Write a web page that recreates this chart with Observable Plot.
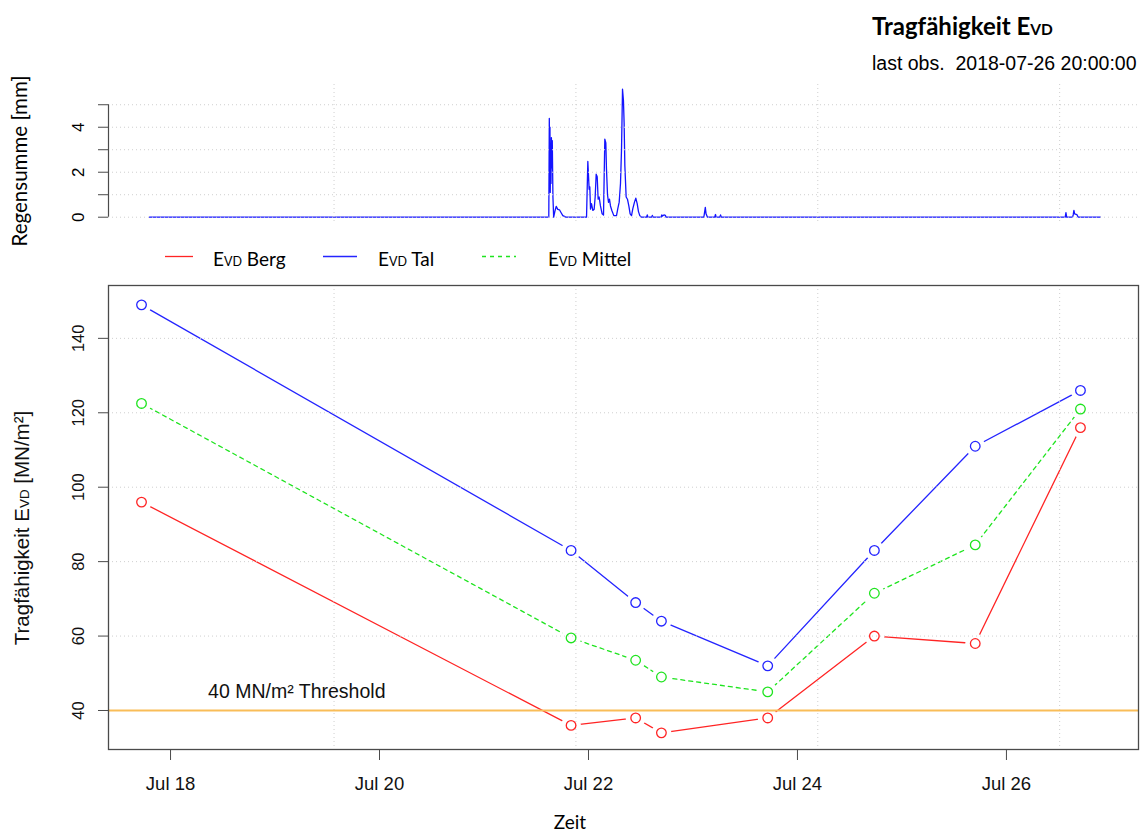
<!DOCTYPE html>
<html>
<head>
<meta charset="utf-8">
<script src="https://cdn.jsdelivr.net/npm/d3@7"></script>
<script src="https://cdn.jsdelivr.net/npm/@observablehq/plot@0.6"></script>
<style>
  body { margin: 0; background: #fff; }
  #chart { position: relative; width: 1141px; height: 834px; overflow: hidden; background: #fff; }
  #chart > svg { position: absolute; left: 0; }
  #overlay { top: 0; pointer-events: none; }
</style>
</head>
<body>
<div id="chart"></div>
<script>
// ---- E_VD measurements (local time) ----
const evdTimes   = ["2018-07-17T17:20", "2018-07-21T20:00", "2018-07-22T10:50", "2018-07-22T16:45",
                    "2018-07-23T17:10", "2018-07-24T17:40", "2018-07-25T16:50", "2018-07-26T17:00"];
const evdBerg    = [96, 36, 38, 34, 38, 60, 58, 116];
const evdTal     = [149, 83, 69, 64, 52, 83, 111, 126];
const evdMittel  = [122.5, 59.5, 53.5, 49, 45, 71.5, 84.5, 121];
const threshold  = 40;

// ---- rain sums [mm] ----
const rainTimes = [
  "2018-07-17T19:10", "2018-07-21T14:53", "2018-07-21T15:00", "2018-07-21T15:05", "2018-07-21T15:09",
  "2018-07-21T15:13", "2018-07-21T15:18", "2018-07-21T15:23", "2018-07-21T15:29", "2018-07-21T15:35",
  "2018-07-21T15:41", "2018-07-21T15:50", "2018-07-21T16:00", "2018-07-21T16:20", "2018-07-21T16:35",
  "2018-07-21T16:57", "2018-07-21T17:20", "2018-07-21T17:43", "2018-07-21T18:06", "2018-07-21T18:29",
  "2018-07-21T18:48", "2018-07-21T23:33", "2018-07-21T23:51", "2018-07-22T00:09", "2018-07-22T00:18",
  "2018-07-22T00:28", "2018-07-22T00:41", "2018-07-22T01:00", "2018-07-22T01:18", "2018-07-22T01:32",
  "2018-07-22T01:46", "2018-07-22T02:00", "2018-07-22T02:13", "2018-07-22T02:27", "2018-07-22T02:45",
  "2018-07-22T03:08", "2018-07-22T03:27", "2018-07-22T03:45", "2018-07-22T03:59", "2018-07-22T04:08",
  "2018-07-22T04:22", "2018-07-22T04:36", "2018-07-22T04:49", "2018-07-22T05:03", "2018-07-22T05:22",
  "2018-07-22T05:49", "2018-07-22T06:26", "2018-07-22T06:44", "2018-07-22T07:03", "2018-07-22T07:21",
  "2018-07-22T07:35", "2018-07-22T07:49", "2018-07-22T08:02", "2018-07-22T08:11", "2018-07-22T08:21",
  "2018-07-22T08:39", "2018-07-22T08:57", "2018-07-22T09:16", "2018-07-22T09:34", "2018-07-22T09:53",
  "2018-07-22T10:11", "2018-07-22T10:34", "2018-07-22T10:52", "2018-07-22T11:11", "2018-07-22T11:29",
  "2018-07-22T11:47", "2018-07-22T12:10", "2018-07-22T13:20", "2018-07-22T13:30", "2018-07-22T13:40",
  "2018-07-22T14:30", "2018-07-22T14:40", "2018-07-22T14:50", "2018-07-22T16:40", "2018-07-22T16:50",
  "2018-07-22T17:00", "2018-07-22T17:20", "2018-07-22T17:40", "2018-07-22T17:50", "2018-07-23T02:30",
  "2018-07-23T02:50", "2018-07-23T03:00", "2018-07-23T03:20", "2018-07-23T05:00", "2018-07-23T05:10",
  "2018-07-23T05:20", "2018-07-23T06:10", "2018-07-23T06:20", "2018-07-23T06:30", "2018-07-26T13:30",
  "2018-07-26T13:40", "2018-07-26T13:50", "2018-07-26T15:10", "2018-07-26T15:20", "2018-07-26T15:30",
  "2018-07-26T15:40", "2018-07-26T16:10", "2018-07-26T16:30", "2018-07-26T21:35"
];
const rainMm = [
  0, 0, 4.39, 1.6, 4.0,
  1.1, 2.9, 1.5, 3.54, 2.2,
  3.4, 0.9, 0, 0.3, 0.48,
  0.35, 0.33, 0.2, 0.07, 0.04,
  0, 0, 2.48, 1.24, 1.35,
  0.36, 0.6, 0.3, 0.35, 0.9,
  1.91, 1.8, 0.8, 0.9, 0.5,
  0.15, 0.1, 3.47, 3.3, 2.13,
  1.0, 0.66, 0.8, 0.5, 0.3,
  0.07, 0.07, 0.38, 0.67, 1.5,
  3.0, 5.69, 5.17, 4.2, 2.3,
  0.9, 0.8, 0.5, 0.15, 0.07,
  0.38, 0.67, 0.85, 0.6, 0.25,
  0.07, 0, 0, 0.1, 0,
  0, 0.08, 0, 0, 0.1,
  0.05, 0.1, 0.08, 0, 0,
  0.44, 0.15, 0, 0, 0.12,
  0, 0, 0.1, 0, 0,
  0.2, 0, 0, 0.1, 0.3,
  0.15, 0.12, 0, 0
];

// ---- axes, ticks and grid ----
const xStart    = "2018-07-17T09:45";
const xEnd      = "2018-07-27T06:20";
const xTickDays = ["2018-07-18", "2018-07-20", "2018-07-22", "2018-07-24", "2018-07-26"];
const gridTimes = ["2018-07-19T13:33:20", "2018-07-21T21:06:40", "2018-07-24T04:40:00", "2018-07-26T12:13:20"];
const evdTicks  = [40, 60, 80, 100, 120, 140];
const rainTicks = [0, 1, 2, 3, 4, 5];
const rainLabelTicks = [0, 2, 4];

const seriesNames  = ["Berg", "Tal", "Mittel"];
const seriesValues = [evdBerg, evdTal, evdMittel];
const seriesColors = ["#ff2424", "#2424ff", "#1fe41f"];
const seriesDash   = [null, null, "4,4"];

const utc = s => new Date(s + "Z");
const xDomain = [utc(xStart), utc(xEnd)];
const gridDates = gridTimes.map(utc);
const xTicks = xTickDays.map(d => utc(d + "T00:00"));

const rain = rainTimes.map((t, i) => ({date: utc(t), mm: rainMm[i]}));
const evdRows = seriesNames.flatMap((name, s) =>
  evdTimes.map((t, i) => ({series: name, date: utc(t), v: seriesValues[s][i]})));

const SANS = "'Liberation Sans', Arial, Helvetica, sans-serif";
const gridStyle = {stroke: "#cfcfcf", strokeDasharray: "1,3", strokeWidth: 1};
const axisInk = "#4a4a4a";

// ---- rain panel ----
const rainPlot = Plot.plot({
  width: 1141, height: 240,
  marginLeft: 108, marginRight: 3, marginTop: 84, marginBottom: 18,
  style: {fontFamily: SANS, background: "transparent", color: "#000"},
  x: {type: "utc", domain: xDomain, axis: null},
  y: {domain: [-0.235, 5.9], label: null},
  marks: [
    Plot.line(rain, {x: "date", y: "mm", stroke: "#1414ff", strokeWidth: 1.3}),
    Plot.ruleY(rainTicks, gridStyle),
    Plot.ruleX(gridDates, gridStyle),
    Plot.ruleX([xDomain[0]], {y1: rainTicks[0], y2: rainTicks[rainTicks.length - 1], stroke: axisInk, strokeWidth: 1.2}),
    Plot.axisY({ticks: rainTicks, tickFormat: d => rainLabelTicks.includes(d) ? String(d) : "",
      tickSize: 10, tickPadding: 15, tickRotate: -90, fontSize: 17, stroke: axisInk, fill: "#000", label: null})
  ]
});
rainPlot.style.top = "0px";

// ---- E_VD panel ----
const evdPlot = Plot.plot({
  width: 1141, height: 594,
  marginLeft: 108, marginRight: 3, marginTop: 45, marginBottom: 85,
  style: {fontFamily: SANS, background: "transparent", color: "#000"},
  x: {type: "utc", domain: xDomain, label: null},
  y: {domain: [29.52, 154.2], label: null},
  color: {domain: seriesNames, range: seriesColors},
  marks: [
    ...seriesNames.map((name, s) =>
      Plot.line(evdRows.filter(d => d.series === name), {
        x: "date", y: "v", stroke: seriesColors[s], strokeWidth: 1.3,
        strokeDasharray: seriesDash[s] ?? undefined
      })),
    // white gap around each observation, as in a line-and-point plot
    Plot.dot(evdRows, {x: "date", y: "v", r: 10, fill: "white"}),
    Plot.ruleY(evdTicks.filter(t => t !== threshold), gridStyle),
    Plot.ruleX(gridDates, gridStyle),
    Plot.ruleY([threshold], {stroke: "#f9bd58", strokeWidth: 2}),
    Plot.text([threshold], {
      x: () => utc("2018-07-19T05:00"), y: d => d,
      text: d => `${d} MN/m² Threshold`,
      dy: -12, lineAnchor: "bottom", textAnchor: "middle", fontSize: 19.5, fill: "#111"
    }),
    Plot.dot(evdRows, {x: "date", y: "v", r: 4.8, stroke: "series", fill: "none", strokeWidth: 1.3}),
    Plot.frame({stroke: axisInk, strokeWidth: 1.3}),
    Plot.axisX({ticks: xTicks, tickFormat: d3.utcFormat("%b %d"), tickSize: 11, tickPadding: 16,
      fontSize: 18.5, stroke: axisInk, fill: "#111", label: null}),
    Plot.axisY({ticks: evdTicks, tickSize: 10, tickPadding: 15, tickRotate: -90,
      fontSize: 16.5, stroke: axisInk, fill: "#111", label: null})
  ]
});
evdPlot.style.top = "240px";

const chart = document.getElementById("chart");
chart.append(rainPlot, evdPlot);

// ---- titles, axis titles and legend ----
const NS = "http://www.w3.org/2000/svg";
const overlay = document.createElementNS(NS, "svg");
overlay.setAttribute("id", "overlay");
overlay.setAttribute("width", 1141);
overlay.setAttribute("height", 834);
chart.append(overlay);

function addText(parts, attrs) {
  const t = document.createElementNS(NS, "text");
  for (const [k, v] of Object.entries(attrs)) t.setAttribute(k, v);
  t.style.whiteSpace = "pre";
  for (const p of parts) {
    const s = document.createElementNS(NS, "tspan");
    s.textContent = p.text;
    if (p.size) s.setAttribute("font-size", p.size);
    t.append(s);
  }
  overlay.append(t);
  return t;
}
const CAL = "Lato, 'Open Sans', sans-serif";

addText([{text: "Tragfähigkeit E"}, {text: "VD", size: 15.5}],
  {x: 872, y: 35, "font-family": CAL, "font-weight": "bold", "font-size": 24, fill: "#000"});
addText([{text: "last obs.  2018-07-26 20:00:00"}],
  {x: 872, y: 70, "font-family": SANS, "font-size": 19.5, fill: "#000"});
addText([{text: "Regensumme [mm]"}],
  {transform: "translate(27,161) rotate(-90)", "text-anchor": "middle", "font-family": CAL, "font-size": 20.5, fill: "#000"});
addText([{text: "Tragfähigkeit E"}, {text: "VD", size: 13.5}, {text: " [MN/m²]"}],
  {transform: "translate(29,528) rotate(-90)", "text-anchor": "middle", "font-family": SANS, "font-size": 20.5, fill: "#111"});
addText([{text: "Zeit"}],
  {x: 570, y: 829, "text-anchor": "middle", "font-family": CAL, "font-size": 19, fill: "#000"});

// legend
const legendSwatchX = [[165, 193], [323, 357], [482, 516]];
const legendTextX = [213, 378, 548];
seriesNames.forEach((name, s) => {
  const l = document.createElementNS(NS, "line");
  l.setAttribute("x1", legendSwatchX[s][0]);
  l.setAttribute("x2", legendSwatchX[s][1]);
  l.setAttribute("y1", 256.5);
  l.setAttribute("y2", 256.5);
  l.setAttribute("stroke", seriesColors[s]);
  l.setAttribute("stroke-width", 1.3);
  if (seriesDash[s]) l.setAttribute("stroke-dasharray", seriesDash[s]);
  overlay.append(l);
  addText([{text: "E"}, {text: "VD", size: 12.5}, {text: " " + name}],
    {x: legendTextX[s], y: 266, "font-family": CAL, "font-size": 19, fill: "#000"});
});
</script>
</body>
</html>
